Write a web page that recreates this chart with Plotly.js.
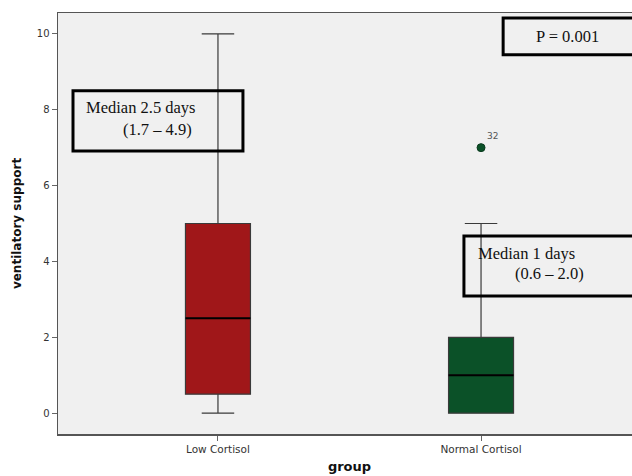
<!DOCTYPE html>
<html><head><meta charset="utf-8">
<script src="https://cdn.plot.ly/plotly-3.0.1.min.js"></script>
<style>html,body{margin:0;padding:0;overflow:hidden;background:#fff}#c{width:650px;height:476px}</style>
</head><body><div id="c"></div>
<script>
const groups = ["Low Cortisol", "Normal Cortisol"];
const lowerFence = [0, 0];
const q1 = [0.5, 0];
const median = [2.5, 1];
const q3 = [5, 2];
const upperFence = [10, 5];
const colors = ["#a01719", "#0b5128"];
const outlierGroup = ["Normal Cortisol"];
const outlierValue = [7];
const outlierLabel = ["32"];
const yTicks = [0, 2, 4, 6, 8, 10];

const boxWidth = 0.247;
const traces = groups.map((g, i) => ({
  type: "box", x: [g], q1: [q1[i]], median: [median[i]], q3: [q3[i]],
  lowerfence: [lowerFence[i]], upperfence: [upperFence[i]],
  fillcolor: colors[i], line: {color: "#3a3a3a", width: 1.2},
  width: boxWidth, whiskerwidth: 0.5, boxpoints: false, showlegend: false, hoverinfo: "skip"
}));
traces.push({
  type: "scatter", mode: "markers+text", x: outlierGroup, y: outlierValue, text: outlierLabel,
  textposition: "top right", textfont: {family: "DejaVu Sans", size: 9, color: "#555"},
  marker: {color: colors[1], size: 8, line: {color: "#0a3a1e", width: 1}}, showlegend: false
});

const medianShapes = median.map((m, i) => ({
  type: "line", xref: "x", yref: "y", x0: i - boxWidth / 2, x1: i + boxWidth / 2, y0: m, y1: m,
  line: {color: "#000", width: 2}
}));

const serif = {family: "Liberation Serif", size: 16.5, color: "#111"};
const boxLine = {color: "#000", width: 3};
const layout = {
  width: 650, height: 476,
  margin: {l: 58, r: 9, t: 13, b: 42},
  paper_bgcolor: "#fff", plot_bgcolor: "#f0f0f0",
  xaxis: {type: "category", range: [-0.608, 1.608], showgrid: false, zeroline: false,
    showline: true, mirror: true, linecolor: "#555", linewidth: 1.5,
    ticks: "outside", ticklen: 5, tickcolor: "#666",
    tickfont: {family: "DejaVu Sans", size: 10.5, color: "#333"},
    title: {text: "group", font: {family: "DejaVu Sans", size: 13, color: "#111", weight: "bold"}, standoff: 8}},
  yaxis: {range: [-0.55, 10.55], tickvals: yTicks, showgrid: false, zeroline: false,
    showline: true, mirror: true, linecolor: "#555", linewidth: 1.5,
    ticks: "outside", ticklen: 5, tickcolor: "#666",
    tickfont: {family: "DejaVu Sans", size: 10, color: "#333"},
    title: {text: "ventilatory support", font: {family: "DejaVu Sans", size: 12, color: "#111", weight: "bold"}, standoff: 12}},
  shapes: medianShapes.concat([
    {type: "rect", xref: "x", yref: "y", x0: -0.551, x1: 0.095, y0: 6.91, y1: 8.50, line: boxLine},
    {type: "rect", xref: "x", yref: "y", x0: 0.935, x1: 1.75, y0: 3.09, y1: 4.67, line: boxLine},
    {type: "rect", xref: "x", yref: "y", x0: 1.084, x1: 1.75, y0: 9.45, y1: 10.42, line: boxLine}
  ]),
  annotations: [
    {xref: "x", yref: "y", x: -0.51, y: 8.05, xanchor: "left", yanchor: "middle", showarrow: false, text: "Median 2.5 days", font: serif},
    {xref: "x", yref: "y", x: -0.37, y: 7.47, xanchor: "left", yanchor: "middle", showarrow: false, text: "(1.7 – 4.9)", font: serif},
    {xref: "x", yref: "y", x: 0.98, y: 4.22, xanchor: "left", yanchor: "middle", showarrow: false, text: "Median 1 days", font: serif},
    {xref: "x", yref: "y", x: 1.12, y: 3.69, xanchor: "left", yanchor: "middle", showarrow: false, text: "(0.6 – 2.0)", font: serif},
    {xref: "x", yref: "y", x: 1.33, y: 9.92, xanchor: "center", yanchor: "middle", showarrow: false, text: "P = 0.001", font: serif}
  ]
};
Plotly.newPlot("c", traces, layout, {staticPlot: true});
</script></body></html>
